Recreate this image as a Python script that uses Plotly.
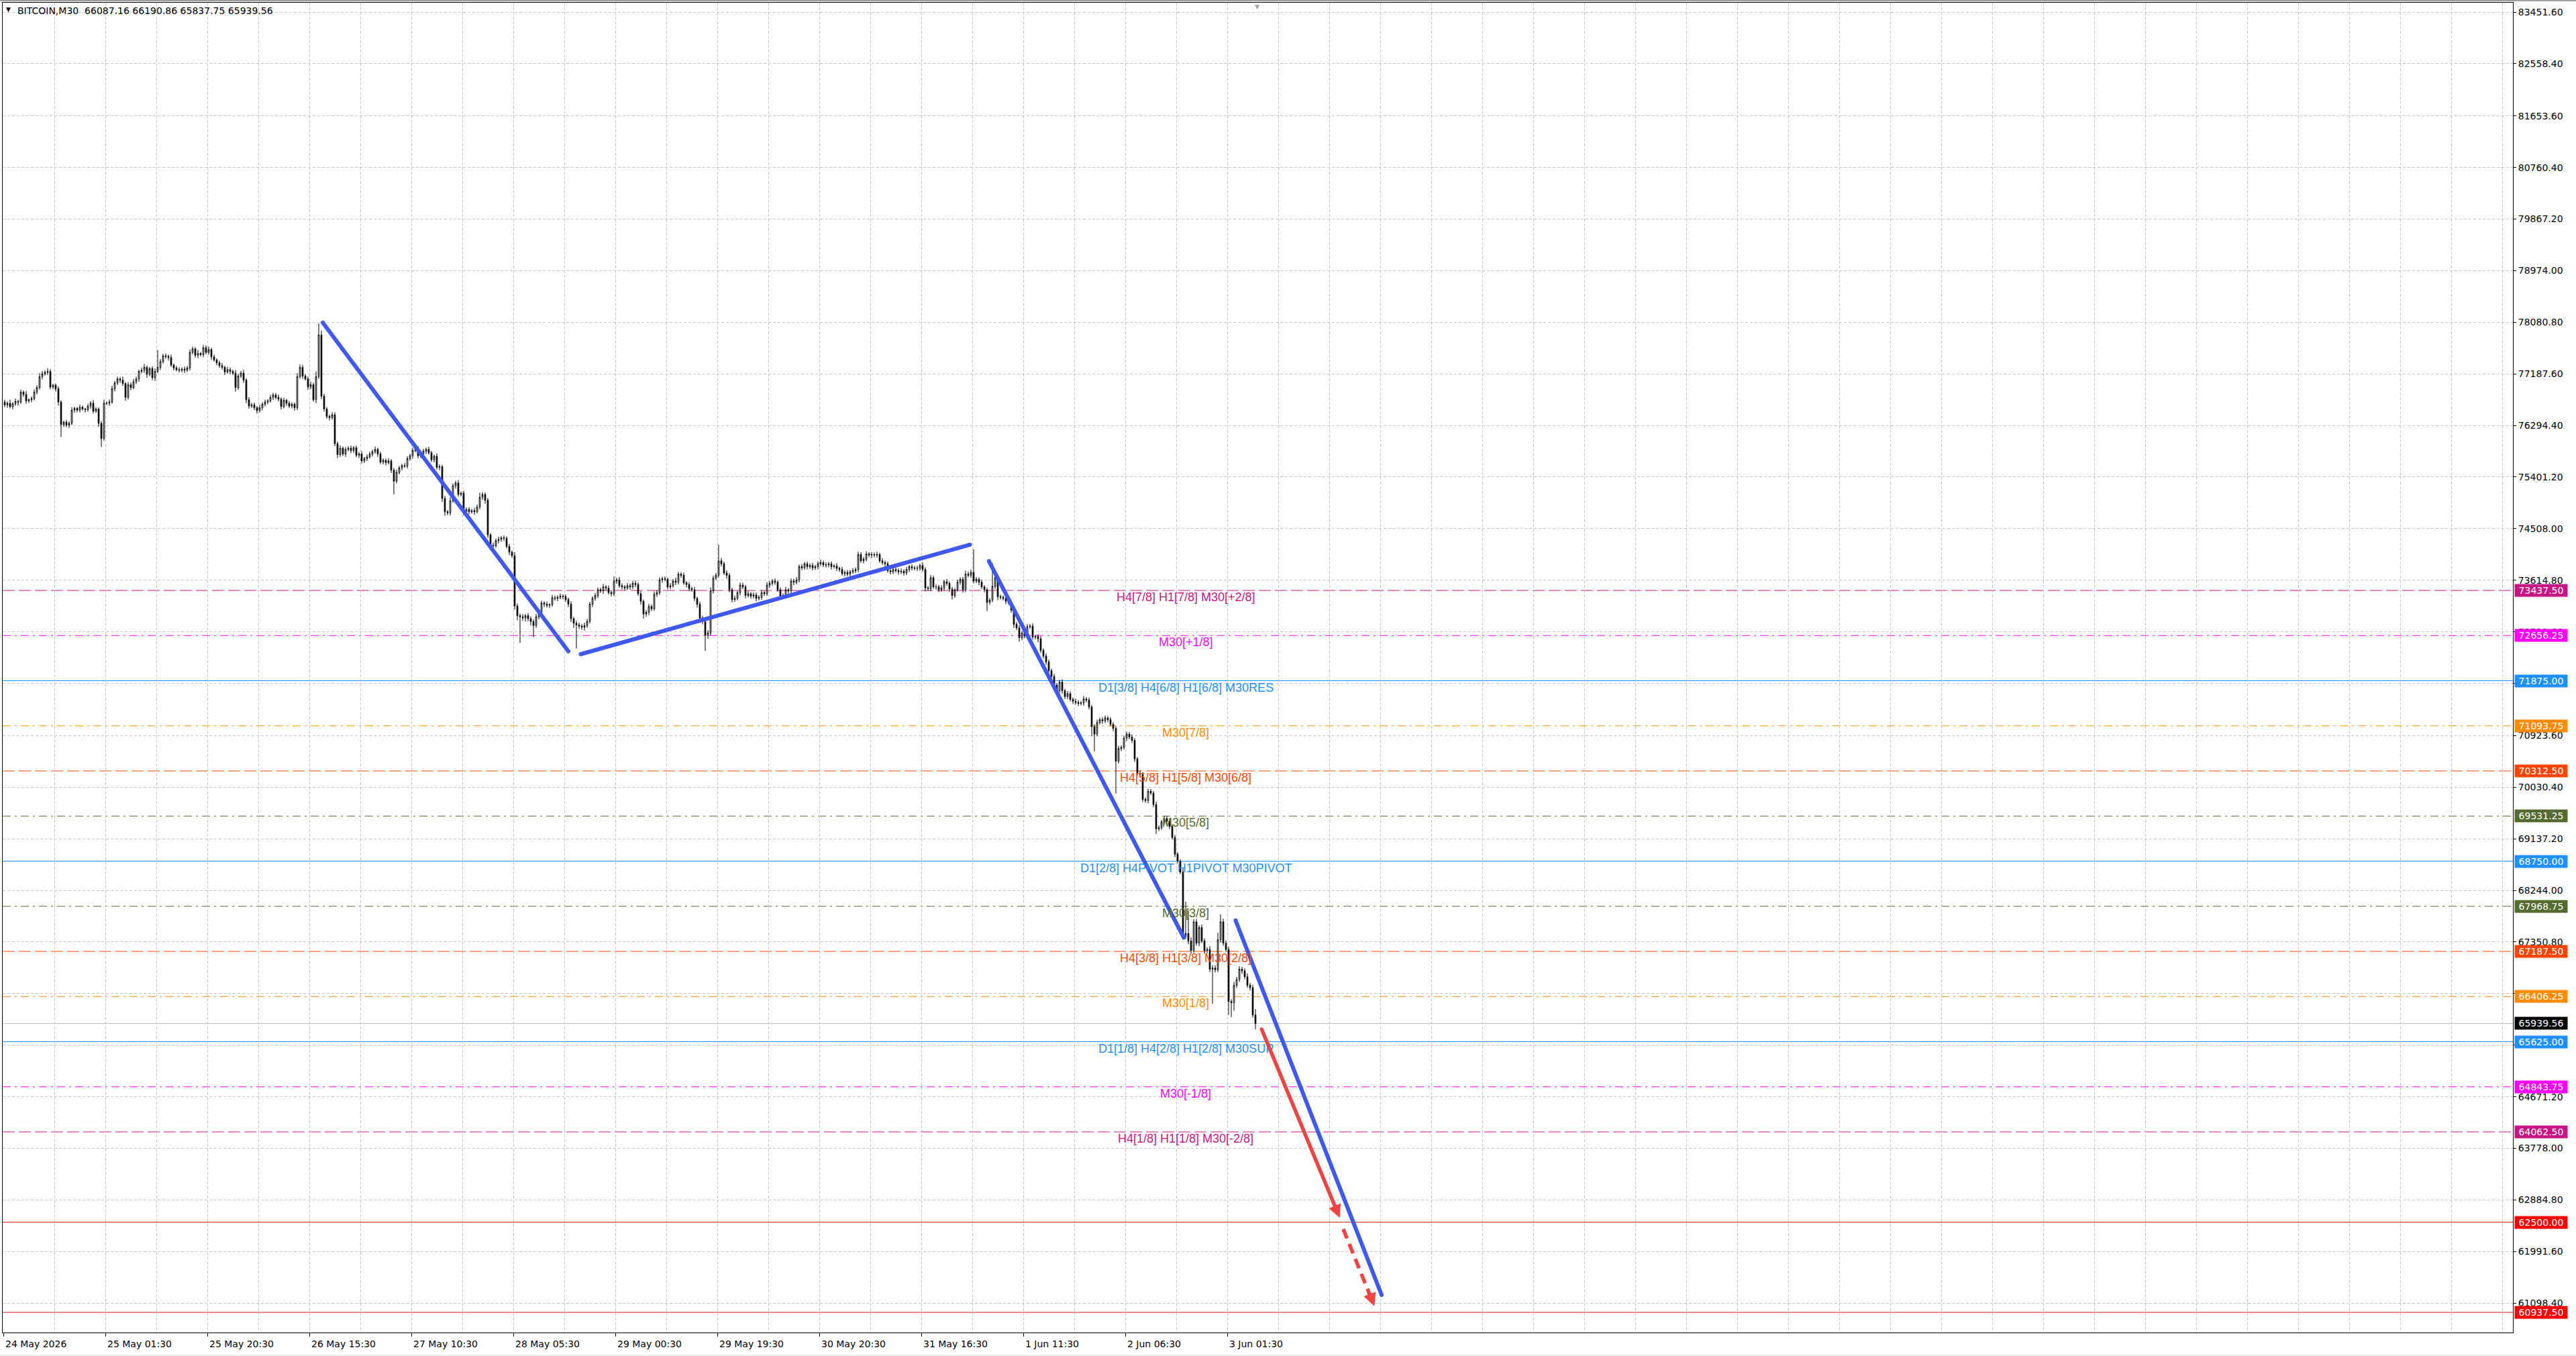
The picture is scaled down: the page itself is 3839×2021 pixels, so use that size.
import plotly.graph_objects as go

# ---------------- DATA ----------------
first_open = 76700
closes = [
76650,76680,76620,76670,76710,76700,76870,76830,76720,76740,76760,76870,76950,77140,77190,77215,77230,76960,76990,76930,
76700,76310,76350,76300,76330,76560,76590,76560,76610,76580,76570,76630,76680,76540,76580,76330,76070,76680,76680,76700,
76930,77030,77100,77080,77020,76780,77000,76950,77050,77100,77230,77250,77300,77180,77280,77120,77230,77300,77400,77500,
77490,77470,77340,77290,77260,77250,77270,77250,77290,77560,77620,77510,77540,77520,77640,77560,77610,77480,77430,77380,
77330,77300,77220,77260,77230,77200,76950,77150,77200,77080,76740,76630,76650,76600,76550,76600,76660,76700,76720,76780,
76820,76780,76750,76620,76730,76680,76630,76660,76600,77140,77300,77150,77100,76960,77000,76740,77140,77860,76800,76580,
76450,76430,76480,75980,75790,75900,75800,75880,75900,75860,75910,75780,75800,75680,75720,75750,75800,75840,75880,75800,
75660,75690,75650,75680,75520,75330,75480,75560,75600,75590,75720,75770,75860,75890,75770,75800,75850,75880,75820,75700,
75760,75570,75580,75030,74800,74780,74990,75250,75300,75100,75120,74800,74840,74800,74820,74800,74880,75050,75100,75000,
74400,74220,74210,74300,74320,74350,74340,74200,74100,74040,73170,73000,72980,72960,73000,72950,72900,72830,72980,73050,
73220,73200,73180,73190,73310,73300,73320,73340,73330,73280,73200,72950,72870,72840,72820,72800,72830,72900,73200,73300,
73350,73450,73430,73500,73480,73400,73380,73600,73620,73520,73500,73480,73520,73500,73560,73540,73380,73250,73030,73060,
73160,73120,73370,73400,73620,73640,73630,73500,73520,73600,73580,73720,73700,73570,73540,73470,73450,73300,73200,72960,
72900,72660,72700,73430,73650,73700,73950,73900,73740,73700,73450,73280,73300,73400,73530,73500,73350,73380,73340,73360,
73300,73320,73400,73380,73530,73560,73600,73580,73450,73330,73350,73450,73430,73600,73580,73620,73850,73830,73900,73850,
73870,73830,73850,73900,73920,73880,73880,73900,73850,73860,73820,73800,73730,73750,73720,73760,73780,73800,74060,73950,
73980,74070,74050,74060,74050,74060,73950,73920,73900,73780,73760,73800,73780,73760,73770,73740,73800,73850,73830,73820,
73820,73870,73800,73480,73470,73660,73500,73500,73450,73480,73590,73560,73460,73350,73450,73580,73630,73450,73720,73700,
73750,73600,73630,73580,73500,73450,73230,73270,73510,73660,73330,73320,73300,73250,73230,73100,72850,72790,72620,72700,
72650,72810,72820,72630,72640,72600,72400,72300,72200,72050,71950,71800,71700,71850,71700,71600,71650,71550,71520,71500,
71480,71490,71560,71540,71420,71080,70950,71150,71200,71180,71230,71200,71120,71050,70480,70700,70720,70880,70950,70900,
70840,70520,70270,70250,69820,69800,69960,69930,69730,69310,69330,69430,69490,69440,69350,69160,68870,68750,68560,67450,
67500,67370,67200,67700,67330,67600,67370,67200,67220,66880,66900,66870,67390,67700,67330,67220,66320,66300,66600,66700,
66880,66850,66750,66600,66560,66087.16,65939.56]

upper_wicks = [
40,30,60,25,50,30,45,30,60,20,35,50,40,60,45,30,55,40,25,30,
40,30,25,40,35,50,30,25,45,30,20,40,35,55,30,25,40,60,30,45,
50,35,40,30,60,25,45,35,50,40,30,45,60,35,25,40,50,300,45,35,
40,30,50,25,35,40,30,45,35,50,40,30,60,25,45,35,50,30,40,25,
35,45,30,50,40,30,55,35,40,60,30,45,35,40,30,50,35,40,30,45,
40,35,50,30,45,25,40,35,30,60,50,45,30,40,55,35,90,200,80,40,
35,30,45,40,35,50,30,40,35,45,30,40,35,50,30,45,40,35,50,30,
40,35,30,45,30,40,50,35,30,45,40,35,50,30,45,35,40,30,45,35,
30,50,40,35,45,30,60,40,35,50,30,45,35,40,30,50,45,80,40,35,
40,30,45,35,50,30,40,35,45,30,60,40,35,50,30,45,40,35,50,45,
40,35,45,30,50,40,35,45,30,40,35,50,30,45,40,35,50,45,40,35,
45,40,35,50,30,45,40,80,35,50,40,30,45,35,40,50,35,45,30,40,
45,35,50,40,45,35,40,30,45,35,60,40,35,45,30,40,35,50,30,45,
40,35,50,60,45,40,280,50,35,45,40,35,50,30,45,40,35,50,30,45,
40,35,45,30,50,40,35,45,30,40,35,50,30,45,40,50,35,45,30,40,
35,45,30,40,50,35,45,30,40,35,50,30,45,35,40,30,45,35,50,40,
35,45,30,40,35,50,30,45,35,40,30,45,35,40,50,35,45,30,40,35,
45,30,50,40,35,45,30,40,35,50,30,45,35,40,30,45,35,40,60,45,
50,400,40,35,45,30,40,35,400,45,40,35,30,45,40,35,50,40,45,35,
40,45,35,50,30,40,45,35,50,40,35,45,30,40,50,35,45,40,35,45,
40,35,50,30,45,35,40,50,35,45,40,30,45,35,40,50,35,45,40,35,
45,40,35,50,40,35,45,40,35,50,40,35,45,40,50,35,45,40,35,60,
550,400,60,45,50,40,55,45,40,60,50,45,120,130,55,45,50,40,60,45,
50,40,45,55,40,50,103.7]

lower_wicks = [
40,50,30,45,35,60,30,40,50,35,45,30,40,35,50,30,45,40,35,50,
60,215,40,35,50,30,45,35,40,30,50,35,45,40,30,60,150,40,35,45,
30,45,35,50,40,60,35,45,30,40,50,35,45,60,35,40,55,30,45,35,
40,50,35,45,30,40,35,50,30,45,35,40,50,30,45,35,40,50,30,45,
35,40,50,30,45,35,70,40,35,50,60,45,35,40,50,30,45,35,40,30,
45,35,40,50,30,45,35,40,50,40,35,45,30,50,40,35,60,40,50,45,
40,50,35,45,60,40,35,50,30,45,40,35,50,45,35,40,30,45,35,50,
35,40,45,30,50,230,40,35,45,30,40,35,50,30,45,40,35,50,30,40,
45,35,50,60,70,40,45,35,50,40,35,60,40,45,35,50,30,40,45,60,
50,45,40,35,50,40,45,35,50,40,60,80,450,50,60,45,70,200,40,45,
35,50,40,45,35,40,50,35,45,40,50,60,80,410,50,45,60,40,35,50,
40,45,35,50,40,35,45,40,50,35,45,40,35,50,40,45,35,60,80,45,
50,40,35,45,40,50,35,45,40,35,50,40,45,35,50,40,35,45,60,70,
50,270,60,40,45,35,40,50,35,60,45,50,40,35,45,40,50,35,45,40,
50,35,45,40,35,50,40,45,35,50,40,35,45,40,50,35,45,40,35,50,
40,45,35,50,40,35,45,40,50,35,45,40,35,50,40,45,35,40,50,35,
45,40,35,50,40,45,35,40,50,35,45,40,35,50,40,45,35,40,50,35,
45,40,35,60,40,45,35,50,40,35,45,40,50,70,40,35,45,50,40,35,
45,40,35,50,40,45,150,40,35,45,60,40,35,50,40,45,60,40,70,45,
40,50,35,45,40,60,45,40,50,35,45,40,60,35,50,40,45,35,50,40,
45,35,50,40,45,170,300,40,35,50,40,45,35,50,560,40,45,35,50,40,
45,50,40,35,45,40,50,35,45,90,40,35,50,40,45,35,50,40,35,60,
45,60,50,40,45,50,40,55,45,50,600,45,40,50,45,40,230,250,140,45,
40,50,45,40,50,45,101.81]

x_label_texts = ["24 May 2026", "25 May 01:30", "25 May 20:30", "26 May 15:30", "27 May 10:30",
                 "28 May 05:30", "29 May 00:30", "29 May 19:30", "30 May 20:30", "31 May 16:30",
                 "1 Jun 11:30", "2 Jun 06:30", "3 Jun 01:30"]
bars_per_label = 38

y_tick_vals = [83451.6, 82558.4, 81653.6, 80760.4, 79867.2, 78974.0, 78080.8, 77187.6, 76294.4,
               75401.2, 74508.0, 73614.8, 72721.6, 71826.0, 70923.6, 70030.4, 69137.2, 68244.0,
               67350.8, 66457.6, 65564.4, 64671.2, 63778.0, 62884.8, 61991.6, 61098.4]
y_tick_text = ["83451.60", "82558.40", "81653.60", "80760.40", "79867.20", "78974.00", "78080.80",
               "77187.60", "76294.40", "75401.20", "74508.00", "73614.80", "72721.60", "",
               "70923.60", "70030.40", "69137.20", "68244.00", "67350.80", "66457.60", "",
               "64671.20", "63778.00", "62884.80", "61991.60", "61098.40"]

level_prices = [73437.50, 72656.25, 71875.00, 71093.75, 70312.50, 69531.25, 68750.00,
                67968.75, 67187.50, 66406.25, 65625.00, 64843.75, 64062.50]
level_labels = ["H4[7/8] H1[7/8] M30[+2/8]", "M30[+1/8]", "D1[3/8] H4[6/8] H1[6/8] M30RES",
                "M30[7/8]", "H4[5/8] H1[5/8] M30[6/8]", "M30[5/8]", "D1[2/8] H4PIVOT H1PIVOT M30PIVOT",
                "M30[3/8]", "H4[3/8] H1[3/8] M30[2/8]", "M30[1/8]", "D1[1/8] H4[2/8] H1[2/8] M30SUP",
                "M30[-1/8]", "H4[1/8] H1[1/8] M30[-2/8]"]
level_colors = ["#C71585", "#FF00FF", "#1E90FF", "#FF8C00", "#FF4500", "#556B2F", "#1E90FF",
                "#556B2F", "#FF4500", "#FF8C00", "#1E90FF", "#FF00FF", "#C71585"]
level_styles = ["dash", "dashdot", "solid", "dashdot", "dash", "dashdot", "solid",
                "dashdot", "dash", "dashdot", "solid", "dashdot", "dash"]
level_label_bar = 440

target_prices = [62500.00, 60937.50]
last_price = 65939.56
last_bar_marker = 466.5

header_text = "BITCOIN,M30  66087.16 66190.86 65837.75 65939.56"

trend_x = [[118.5, 210.0], [214.6, 359.6], [366.7, 439.3], [458.6, 513.0]]
trend_y = [[78075, 72384], [72334, 74230], [73945, 67427], [67725, 61240]]

arrow_solid = dict(x0=468.3, y0=65840, x1=497.4, y1=62576)
arrow_dashed = dict(x0=498.7, y0=62380, x1=508.9, y1=61208, tipx=510.3, tipy=61046)

# ---------------- STYLE ----------------
BLUE = "#3F58F0"
RED = "#F04444"
GRID = "#C4C4C4"
AXFONT = dict(family="DejaVu Sans", size=14, color="black")
DASHES = {"dash": "18px,6px", "dashdot": "12px,6px,3px,6px", "solid": "solid"}

n = len(closes)
bars = list(range(n))
opens = [first_open] + closes[:-1]
highs = [max(o, c) + w for o, c, w in zip(opens, closes, upper_wicks)]
lows = [min(o, c) - w for o, c, w in zip(opens, closes, lower_wicks)]

fig = go.Figure()
fig.add_trace(go.Candlestick(
    x=bars, open=opens, high=highs, low=lows, close=closes,
    increasing=dict(line=dict(color="black", width=1), fillcolor="white"),
    decreasing=dict(line=dict(color="black", width=1), fillcolor="black"),
    whiskerwidth=0, hoverinfo="skip", showlegend=False))

shapes = []
for p, col, st in zip(level_prices, level_colors, level_styles):
    shapes.append(dict(type="line", xref="paper", x0=0, x1=1, yref="y", y0=p, y1=p,
                       line=dict(color=col, width=1, dash=DASHES[st]), layer="between"))
for p in target_prices:
    shapes.append(dict(type="line", xref="paper", x0=0, x1=1, yref="y", y0=p, y1=p,
                       line=dict(color="#D02020", width=1), layer="between"))
shapes.append(dict(type="line", xref="paper", x0=0, x1=1, yref="y", y0=last_price, y1=last_price,
                   line=dict(color="#C0C0C0", width=1), layer="between"))
# window frame (top edge and bottom strip)
shapes.append(dict(type="line", xref="paper", x0=-0.01, x1=1.03, yref="paper",
                   y0=1 + 3 / 1982, y1=1 + 3 / 1982, line=dict(color="#A0A0A0", width=2)))
shapes.append(dict(type="rect", xref="paper", x0=-0.01, x1=1.03, yref="paper",
                   y0=-33 / 1982, y1=-40 / 1982, line=dict(width=0), fillcolor="#EEEEEE"))

for tx, ty in zip(trend_x, trend_y):
    fig.add_trace(go.Scatter(x=tx, y=ty, mode="lines+markers",
                             line=dict(color=BLUE, width=6),
                             marker=dict(color=BLUE, size=6),
                             hoverinfo="skip", showlegend=False))

fig.add_trace(go.Scatter(x=[arrow_solid["x0"]], y=[arrow_solid["y0"]], mode="markers",
                         marker=dict(color=RED, size=5.5), hoverinfo="skip", showlegend=False))
fig.add_trace(go.Scatter(x=[arrow_dashed["x0"], arrow_dashed["x1"]],
                         y=[arrow_dashed["y0"], arrow_dashed["y1"]], mode="lines",
                         line=dict(color=RED, width=5.5, dash="15px,9px"),
                         hoverinfo="skip", showlegend=False))

ann = []
for p, txt, col in zip(level_prices, level_labels, level_colors):
    ann.append(dict(x=level_label_bar, y=p, xref="x", yref="y", text=txt, showarrow=False,
                    xanchor="center", yanchor="middle", yshift=-10,
                    font=dict(family="Liberation Sans", size=18, color=col)))

tag_prices = level_prices + target_prices + [last_price]
tag_colors = level_colors + ["#FF0000", "#FF0000"] + ["#000000"]
for p, col in zip(tag_prices, tag_colors):
    ann.append(dict(x=1, y=p, xref="paper", yref="y", text=f"{p:.2f}", showarrow=False,
                    xanchor="left", yanchor="middle", xshift=2, width=78, height=18,
                    bgcolor=col, borderpad=0, align="center",
                    font=dict(family="DejaVu Sans", size=14, color="white")))

for k, t in enumerate(x_label_texts):
    ann.append(dict(x=k * bars_per_label - 0.5, y=0, xref="x", yref="paper", text=t,
                    showarrow=False, xanchor="left", yanchor="top", xshift=1, yshift=-7,
                    font=AXFONT))

ann.append(dict(x=0, y=1, xref="paper", yref="paper", text="▼", showarrow=False,
                xanchor="left", yanchor="top", xshift=3, yshift=-3,
                font=dict(family="DejaVu Sans", size=9, color="black")))
ann.append(dict(x=0, y=1, xref="paper", yref="paper", text=header_text, showarrow=False,
                xanchor="left", yanchor="top", xshift=20, yshift=-2,
                font=dict(family="DejaVu Sans", size=14, color="black")))
ann.append(dict(x=last_bar_marker, y=1, xref="x", yref="paper", text="▼", showarrow=False,
                xanchor="center", yanchor="top", yshift=1,
                font=dict(family="DejaVu Sans", size=9, color="#A0A0A0")))

ann.append(dict(x=arrow_solid["x1"], y=arrow_solid["y1"], ax=arrow_solid["x0"], ay=arrow_solid["y0"],
                xref="x", yref="y", axref="x", ayref="y", text="", showarrow=True,
                arrowhead=2, arrowsize=0.7, arrowwidth=5.5, arrowcolor=RED, standoff=0))
ann.append(dict(x=arrow_dashed["tipx"], y=arrow_dashed["tipy"], ax=-8, ay=-21,
                xref="x", yref="y", text="", showarrow=True,
                arrowhead=2, arrowsize=0.7, arrowwidth=5.5, arrowcolor=RED, standoff=0))

major_ticks = [k * bars_per_label - 0.5 for k in range(len(x_label_texts))]
minor_ticks = [k * 19 - 0.5 for k in range(0, 50)]

fig.update_layout(
    width=3839, height=2021,
    margin=dict(l=4, r=94, t=4, b=35),
    paper_bgcolor="white", plot_bgcolor="white",
    showlegend=False, boxgap=0.4,
    shapes=shapes, annotations=ann,
    xaxis=dict(range=[-0.75, 934.5], tickmode="array", tickvals=major_ticks,
               ticktext=[""] * len(major_ticks), ticks="outside", ticklen=5, tickcolor="black",
               showgrid=True, gridcolor=GRID, griddash="4px,3px", gridwidth=1,
               minor=dict(tickmode="array", tickvals=minor_ticks, showgrid=True, gridcolor=GRID,
                          griddash="4px,3px", ticks=""),
               showline=True, linecolor="black", linewidth=1, mirror=True,
               zeroline=False, rangeslider=dict(visible=False), fixedrange=True),
    yaxis=dict(side="right", range=[60589.1, 83614.2], tickmode="array",
               tickvals=y_tick_vals, ticktext=y_tick_text, ticks="outside", ticklen=4,
               tickcolor="black", tickfont=AXFONT,
               showgrid=True, gridcolor=GRID, griddash="4px,3px", gridwidth=1,
               showline=True, linecolor="black", linewidth=1, mirror=True,
               zeroline=False, fixedrange=True),
)

fig.write_html("out.html", config={"displayModeBar": False},
               post_script="document.body.style.margin='0';document.body.style.padding='0';")
